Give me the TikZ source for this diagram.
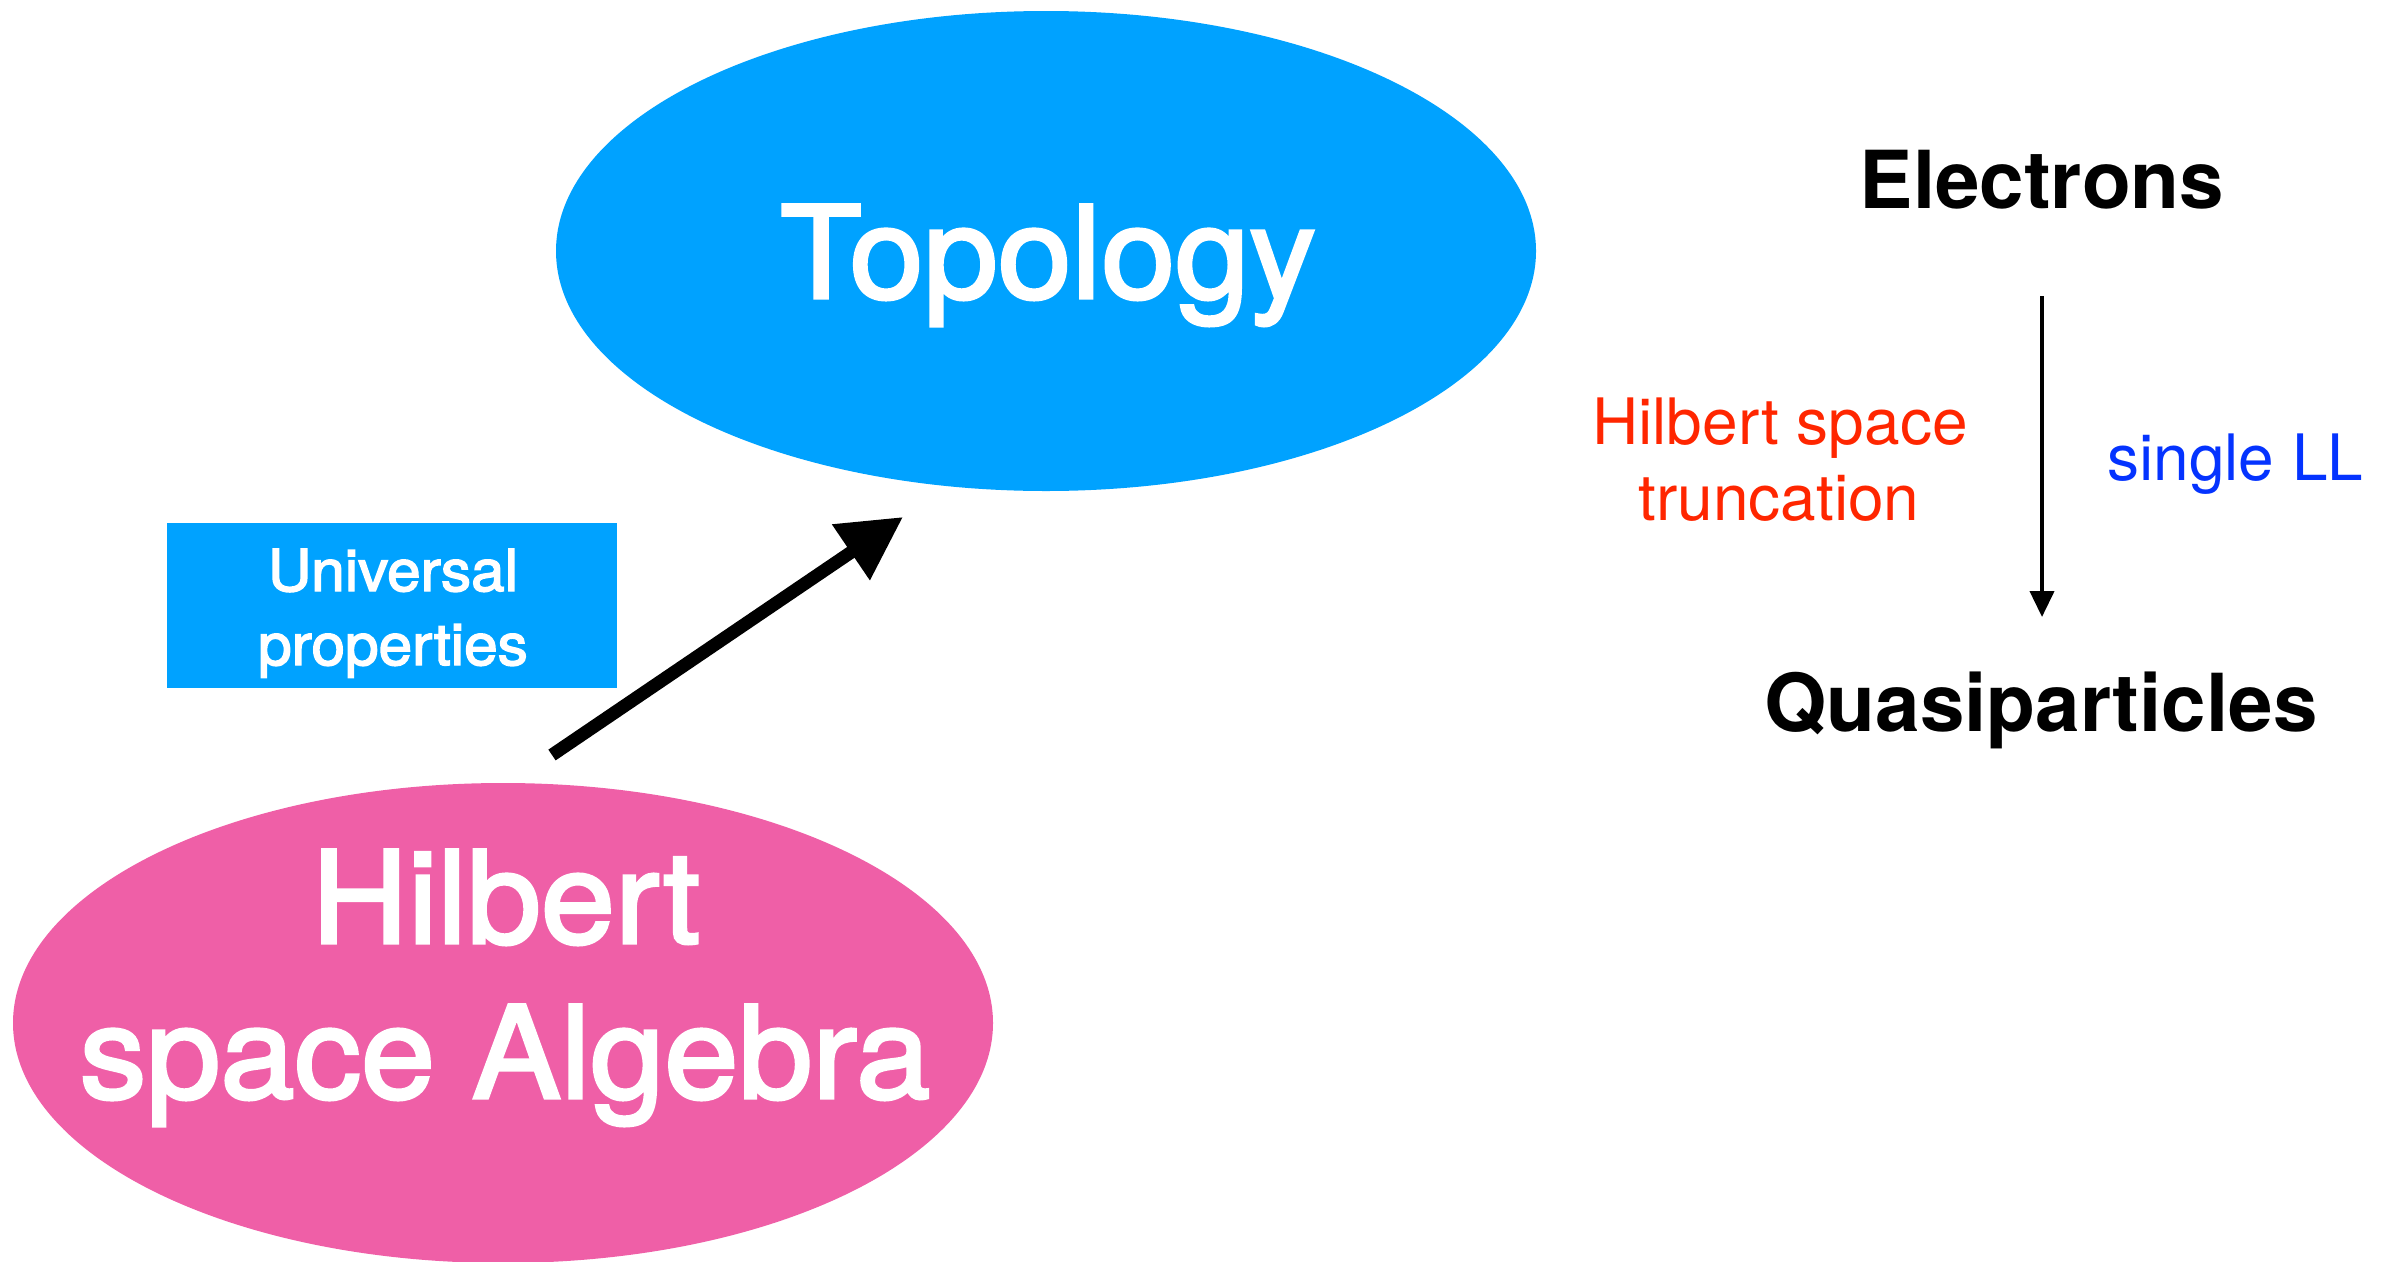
\documentclass[tikz,border=0pt]{standalone}
\usepackage{fontspec}
\setmainfont{TeX Gyre Heros}
% a slightly heavier, wider cut for the white captions
\newfontfamily\medfont[FakeBold=2.5,FakeStretch=1.04]{TeX Gyre Heros}
\usetikzlibrary{shapes.geometric,arrows.meta}

\definecolor{topoblue}{HTML}{00A2FF}
\definecolor{algpink}{HTML}{EF5FA7}
\definecolor{truncred}{HTML}{FF2600}
\definecolor{llblue}{HTML}{0433FF}

\tikzset{
  blob/.style={ellipse, inner sep=0pt, minimum width=980pt, minimum height=480pt},
  bigtext/.style={text=white, anchor=base, inner sep=0pt, font=\medfont\fontsize{128}{128}\selectfont},
  boxtext/.style={text=white, anchor=base, inner sep=0pt, font=\medfont\fontsize{58}{58}\selectfont},
  particle/.style={anchor=base, inner sep=0pt, font=\fontsize{80}{80}\selectfont\bfseries},
  sidelabel/.style={anchor=base, inner sep=0pt, font=\fontsize{64}{64}\selectfont},
  fatarrow/.style={line width=13pt, -{Triangle[length=63pt, width=64pt]}},
  thinarrow/.style={line width=4pt, -{Triangle[length=26pt, width=24pt]}}
}

\begin{document}
\begin{tikzpicture}[x=1pt, y=-1pt]
  \useasboundingbox (0,0) rectangle (2384,1261);

  % the two ellipses
  \node[blob, fill=topoblue] (topo) at (1046,251) {};
  \node[blob, fill=algpink] (alg) at (503,1023) {};

  \node[bigtext] (topotxt) at (1048,298) {Topology};
  \node[bigtext] (algtxt1) at (506,943) {Hilbert};
  \node[bigtext] (algtxt2) at (505,1098) {space Algebra};

  % label box
  \node[rectangle, fill=topoblue, inner sep=0pt, minimum width=450pt, minimum height=165pt] (univ) at (392,605.5) {};
  \node[boxtext] (univ1) at (393,591) {Universal};
  \node[boxtext] (univ2) at (393,665) {properties};

  % arrow from the algebra to the topology
  \coordinate (fatstart) at (552,755);
  \coordinate (fatend) at (903,517);
  \draw[fatarrow] (fatstart) -- (fatend);

  % electrons to quasiparticles
  \node[particle] (elec) at (2042,208) {Electrons};
  \node[particle] (quasi) at (2041,731) {Quasiparticles};
  \coordinate (thinstart) at (2042,296);
  \coordinate (thinend) at (2042,617);
  \draw[thinarrow] (thinstart) -- (thinend);

  \node[sidelabel, text=truncred] (trunc1) at (1780,444) {Hilbert space};
  \node[sidelabel, text=truncred] (trunc2) at (1779,520) {truncation};
  \node[sidelabel, text=llblue, anchor=base west] (ll) at (2107,480) {single LL};
\end{tikzpicture}
\end{document}
